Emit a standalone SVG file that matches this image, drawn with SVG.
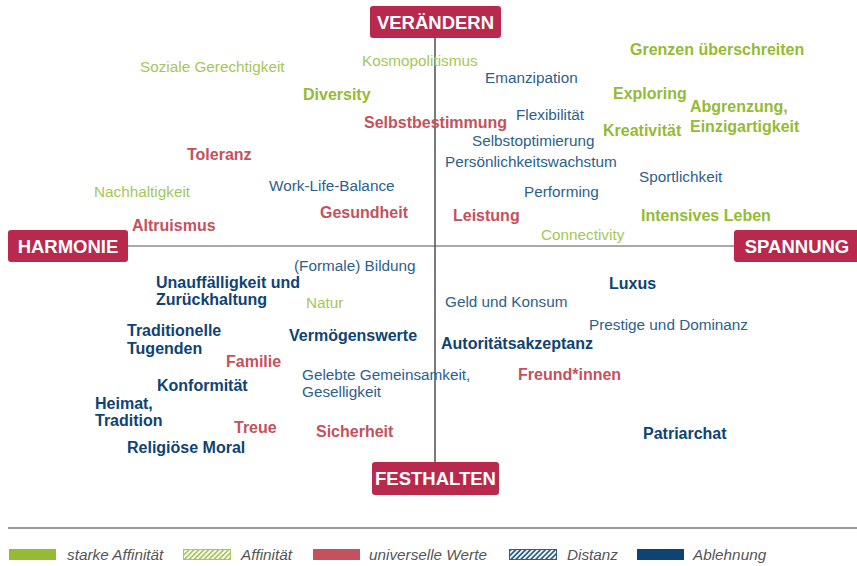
<svg xmlns="http://www.w3.org/2000/svg" width="857" height="566" viewBox="0 0 857 566">
<style>
text{font-family:"Liberation Sans",Arial,sans-serif;font-size:15.3px}
.b{font-weight:bold;font-size:16px}
.lg{fill:#a6c659}
.g{fill:#95ba34}
.r{fill:#c4515d}
.bl{fill:#2d5f8b}
.d{fill:#0e4373}
.lab{fill:#fff;font-weight:bold;font-size:18.5px;text-anchor:middle}
.box{fill:#b8294d}
.leg{fill:#555;font-style:italic;font-size:15.3px}
</style>
<defs>
<pattern id="hg" patternUnits="userSpaceOnUse" width="3.5" height="3.5" patternTransform="rotate(45)">
<rect width="3.5" height="3.5" fill="#fff"/><rect width="1.7" height="3.5" fill="#a6c659"/>
</pattern>
<pattern id="hb" patternUnits="userSpaceOnUse" width="3.5" height="3.5" patternTransform="rotate(45)">
<rect width="3.5" height="3.5" fill="#fff"/><rect width="1.8" height="3.5" fill="#2d5f8b"/>
</pattern>
</defs>
<rect width="857" height="566" fill="#fff"/>
<g id="connectors">
<line x1="435" y1="36" x2="435" y2="464" stroke="#222" stroke-width="1.2"/>
<line x1="126" y1="246" x2="736" y2="246" stroke="#555" stroke-width="1.2"/>
</g>
<g id="veraendern"><rect class="box" x="370" y="6" width="131" height="32" rx="3"/><text class="lab" x="435.5" y="29">VERÄNDERN</text></g>
<g id="harmonie"><rect class="box" x="8" y="230" width="120" height="32" rx="3"/><text class="lab" x="68" y="253">HARMONIE</text></g>
<g id="spannung"><rect class="box" x="734" y="230" width="130" height="32" rx="3"/><text class="lab" x="797" y="253">SPANNUNG</text></g>
<g id="festhalten"><rect class="box" x="372" y="462" width="127" height="33" rx="3"/><text class="lab" x="435.5" y="485">FESTHALTEN</text></g>
<g id="values">
<text class="lg" x="362" y="66">Kosmopolitismus</text>
<text class="lg" x="140" y="72">Soziale Gerechtigkeit</text>
<text class="g b" x="630" y="55">Grenzen überschreiten</text>
<text class="bl" x="485" y="83">Emanzipation</text>
<text class="g b" x="303" y="100">Diversity</text>
<text class="g b" x="613" y="99">Exploring</text>
<text class="g b" x="690" y="112">Abgrenzung,</text>
<text class="g b" x="690" y="132">Einzigartigkeit</text>
<text class="bl" x="516" y="120">Flexibilität</text>
<text class="r b" x="364" y="128">Selbstbestimmung</text>
<text class="g b" x="603" y="136">Kreativität</text>
<text class="bl" x="472" y="146">Selbstoptimierung</text>
<text class="r b" x="187" y="160">Toleranz</text>
<text class="bl" x="445" y="167">Persönlichkeitswachstum</text>
<text class="bl" x="639" y="182">Sportlichkeit</text>
<text class="lg" x="94" y="197">Nachhaltigkeit</text>
<text class="bl" x="269" y="191">Work-Life-Balance</text>
<text class="bl" x="524" y="197">Performing</text>
<text class="r b" x="320" y="218">Gesundheit</text>
<text class="r b" x="453" y="221">Leistung</text>
<text class="g b" x="641" y="221">Intensives Leben</text>
<text class="r b" x="132" y="231">Altruismus</text>
<text class="lg" x="541" y="240">Connectivity</text>
<text class="bl" x="294" y="271">(Formale) Bildung</text>
<text class="d b" x="156" y="288">Unauffälligkeit und</text>
<text class="d b" x="156" y="305">Zurückhaltung</text>
<text class="lg" x="306" y="308">Natur</text>
<text class="bl" x="445" y="307">Geld und Konsum</text>
<text class="d b" x="609" y="289">Luxus</text>
<text class="bl" x="589" y="330">Prestige und Dominanz</text>
<text class="d b" x="127" y="336">Traditionelle</text>
<text class="d b" x="127" y="354">Tugenden</text>
<text class="d b" x="289" y="341">Vermögenswerte</text>
<text class="d b" x="441" y="349">Autoritätsakzeptanz</text>
<text class="r b" x="226" y="367">Familie</text>
<text class="bl" x="302" y="380">Gelebte Gemeinsamkeit,</text>
<text class="bl" x="302" y="397">Geselligkeit</text>
<text class="r b" x="518" y="380">Freund*innen</text>
<text class="d b" x="157" y="391">Konformität</text>
<text class="d b" x="95" y="409">Heimat,</text>
<text class="d b" x="95" y="426">Tradition</text>
<text class="r b" x="234" y="433">Treue</text>
<text class="r b" x="316" y="437">Sicherheit</text>
<text class="d b" x="643" y="439">Patriarchat</text>
<text class="d b" x="127" y="453">Religiöse Moral</text>
</g>
<g id="legend">
<line x1="8" y1="528" x2="857" y2="528" stroke="#777" stroke-width="1.5"/>
<rect x="9" y="549" width="47" height="11" fill="#95ba34"/>
<text class="leg" x="67" y="560">starke Affinität</text>
<rect x="183.5" y="549.5" width="47" height="10" fill="url(#hg)" stroke="#a6c659" stroke-width="1"/>
<text class="leg" x="241" y="560">Affinität</text>
<rect x="313" y="549" width="47" height="11" fill="#c4515d"/>
<text class="leg" x="369" y="560">universelle Werte</text>
<rect x="509.5" y="549.5" width="47" height="10" fill="url(#hb)" stroke="#2d5f8b" stroke-width="1"/>
<text class="leg" x="567" y="560">Distanz</text>
<rect x="637" y="549" width="47" height="11" fill="#0e4373"/>
<text class="leg" x="693" y="560">Ablehnung</text>
</g>
</svg>
